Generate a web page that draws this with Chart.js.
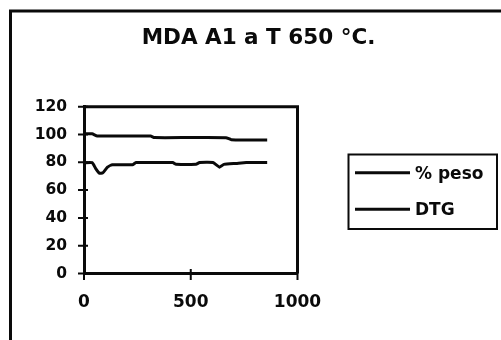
<!DOCTYPE html>
<html>
<head>
<meta charset="utf-8">
<style>
  html, body { margin: 0; padding: 0; background: #ffffff; }
  #wrap { width: 501px; height: 340px; }
</style>
<script src="https://cdn.jsdelivr.net/npm/chart.js@4/dist/chart.umd.min.js"></script>
</head>
<body>
<div id="wrap"><canvas id="c" width="501" height="340"></canvas></div>
<script>
// Thermogravimetric run of sample MDA A1 at 650 °C
const chartTitle = 'MDA A1 a T 650 °C.';
const seriesNames = ['% peso', 'DTG'];

// % peso: temperature (°C) and remaining mass (%)
const pesoTemp   = [0, 38, 62, 200, 312, 330, 500, 665, 690, 760, 858];
const pesoValues = [100.5, 100.5, 99, 99, 98.9, 97.8, 97.8, 97.7, 96.3, 96.1, 96.1];

// DTG signal, same temperature axis
const dtgTemp   = [0, 38, 55, 72, 88, 110, 133, 227, 243, 416, 431, 525, 541, 604, 635, 655, 713, 760, 858];
const dtgValues = [79.7, 79.7, 75.5, 72.2, 72.4, 76.5, 78.2, 78.2, 79.8, 79.8, 78.6, 78.6, 79.8, 79.8, 76.5, 78.5, 79.2, 79.8, 79.8];

// Axis ticks
const xTicks = [0, 500, 1000];
const yTicks = [0, 20, 40, 60, 80, 100, 120];

const INK = '#0a0a0a';
const FONT = '"DejaVu Sans", sans-serif';

const toPoints = (xs, ys) => xs.map((x, i) => ({ x: x, y: ys[i] }));

// Outer frame of the figure (its right and bottom sides fall outside the page)
const framePlugin = {
  id: 'frame',
  beforeDraw(chart) {
    const ctx = chart.ctx;
    ctx.save();
    ctx.fillStyle = '#ffffff';
    ctx.fillRect(0, 0, chart.width, chart.height);
    ctx.strokeStyle = INK;
    ctx.lineWidth = 3;
    ctx.beginPath();
    ctx.moveTo(10.5, chart.height);
    ctx.lineTo(10.5, 11);
    ctx.lineTo(chart.width, 11);
    ctx.stroke();
    ctx.restore();
  }
};

// Title text, centred in the frame
const titlePlugin = {
  id: 'figTitle',
  afterDraw(chart) {
    const ctx = chart.ctx;
    ctx.save();
    ctx.fillStyle = INK;
    ctx.font = 'bold 21.5px ' + FONT;
    ctx.textAlign = 'center';
    ctx.textBaseline = 'alphabetic';
    ctx.fillText(chartTitle, 258.5, 44.3);
    ctx.restore();
  }
};

// Closed plot box plus tick marks that cross the axis lines
const boxPlugin = {
  id: 'plotBox',
  afterDatasetsDraw(chart) {
    const ctx = chart.ctx;
    const a = chart.chartArea;
    const xs = chart.scales.x, ys = chart.scales.y;
    ctx.save();
    ctx.strokeStyle = INK;
    ctx.lineWidth = 3;
    ctx.beginPath();
    ctx.moveTo(a.left, a.top);
    ctx.lineTo(a.right, a.top);
    ctx.lineTo(a.right, a.bottom);
    ctx.stroke();
    ctx.lineWidth = 2;
    ctx.beginPath();
    yTicks.forEach(v => {
      const py = ys.getPixelForValue(v);
      ctx.moveTo(a.left - 6, py);
      ctx.lineTo(a.left + 4, py);
    });
    xTicks.forEach(v => {
      const px = xs.getPixelForValue(v);
      ctx.moveTo(px, a.bottom - 4.5);
      ctx.lineTo(px, a.bottom + 6.5);
    });
    ctx.stroke();
    ctx.restore();
  }
};

// Boxed legend on the right
const legendPlugin = {
  id: 'boxLegend',
  afterDraw(chart) {
    const ctx = chart.ctx;
    ctx.save();
    ctx.strokeStyle = INK;
    ctx.lineWidth = 2;
    ctx.strokeRect(348.5, 154.5, 148.5, 74.5);
    ctx.font = 'bold 17px ' + FONT;
    ctx.fillStyle = INK;
    ctx.textAlign = 'left';
    ctx.textBaseline = 'alphabetic';
    const rows = [{ ly: 172.7, by: 179 }, { ly: 209.3, by: 215.3 }];
    chart.data.datasets.forEach((ds, i) => {
      ctx.lineWidth = 3;
      ctx.strokeStyle = ds.borderColor;
      ctx.beginPath();
      ctx.moveTo(355, rows[i].ly);
      ctx.lineTo(410, rows[i].ly);
      ctx.stroke();
      ctx.fillText(ds.label, 415, rows[i].by);
    });
    ctx.restore();
  }
};

const plainNumber = v => String(v);

new Chart(document.getElementById('c'), {
  type: 'line',
  data: {
    datasets: [
      { label: seriesNames[0], data: toPoints(pesoTemp, pesoValues) },
      { label: seriesNames[1], data: toPoints(dtgTemp, dtgValues) }
    ].map(d => Object.assign(d, {
      borderColor: INK,
      borderWidth: 3,
      pointRadius: 0,
      tension: 0.15,
      fill: false,
      borderJoinStyle: 'round',
      borderCapStyle: 'butt'
    }))
  },
  options: {
    responsive: false,
    animation: false,
    devicePixelRatio: 1,
    layout: { padding: { left: 0, top: 106.7, right: 203.5, bottom: 0 } },
    plugins: {
      legend: { display: false },
      title: { display: false },
      tooltip: { enabled: false }
    },
    scales: {
      x: {
        type: 'linear',
        min: 0, max: 1000,
        afterBuildTicks(s) { s.ticks = xTicks.map(v => ({ value: v })); },
        afterFit(s) { s.height = 66.5; },
        grid: { display: true, drawOnChartArea: false, drawTicks: false },
        border: { display: true, color: INK, width: 3 },
        ticks: {
          color: INK,
          padding: 19,
          maxRotation: 0,
          callback: plainNumber,
          font: { family: FONT, weight: 'bold', size: 17 }
        }
      },
      y: {
        type: 'linear',
        min: 0, max: 120,
        afterBuildTicks(s) { s.ticks = yTicks.map(v => ({ value: v })); },
        afterFit(s) { s.width = 84; },
        grid: { display: true, drawOnChartArea: false, drawTicks: false },
        border: { display: true, color: INK, width: 3 },
        ticks: {
          color: INK,
          padding: 17,
          callback: plainNumber,
          font: { family: FONT, weight: 'bold', size: 15.5 }
        }
      }
    }
  },
  plugins: [framePlugin, boxPlugin, titlePlugin, legendPlugin]
});
</script>
</body>
</html>
